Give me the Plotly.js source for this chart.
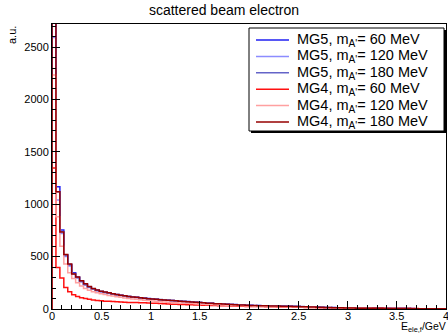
<!DOCTYPE html>
<html>
<head>
<meta charset="utf-8">
<script src="https://cdn.plot.ly/plotly-3.0.1.min.js"></script>
<style>html,body{margin:0;padding:0;background:#fff;}#chart{width:448px;height:334px;}</style>
</head>
<body>
<div id="chart"></div>
<script>
// Histogram: 100 bins of 0.04 GeV from 0 to 4 GeV
const binWidth = 0.04;

const seriesNames = [
  "MG5, m<sub>A'</sub>= 60 MeV",
  "MG5, m<sub>A'</sub>= 120 MeV",
  "MG5, m<sub>A'</sub>= 180 MeV",
  "MG4, m<sub>A'</sub>= 60 MeV",
  "MG4, m<sub>A'</sub>= 120 MeV",
  "MG4, m<sub>A'</sub>= 180 MeV"
];

const mg5_60 = [3400,1167,754,515,425,345,302,268,236,212,192,180,168,160,152,145,138,131,126,120,116,112,108,104,100,
  97,94,89,88,83,82,78,77,72,71,66,65,61,60,56,55,50,50,46,46,42,42,38,38,34,
  35,32,33,30,31,29,30,28,28,26,27,24,25,22,21,20,17,18,15,15,13,14,11,12,10,
  10,8,9,8,7,8,6,7,6,5,6,5,4,5,4,3,4,3,3,3,2,3,2,2,2];

const mg5_120 = [2590,1040,720,500,410,335,295,260,230,205,188,175,164,156,148,141,134,128,122,117,113,109,105,101,97,
  95,91,88,86,82,79,77,74,71,69,65,63,60,58,55,53,50,48,46,44,42,40,38,36,34,
  33,33,31,31,30,29,29,28,27,27,26,25,23,22,21,19,18,17,16,14,13,13,12,11,10,
  9,9,8,8,7,7,6,6,6,5,5,5,5,4,4,4,3,3,3,3,2,2,2,2,2];

const mg5_180 = [3300,1120,740,510,420,340,300,262,232,208,190,177,166,158,150,143,136,130,124,119,115,110,106,102,99,
  96,92,90,86,84,80,78,75,73,69,67,64,62,59,56,54,51,49,47,45,43,41,39,37,35,
  34,32,32,31,30,30,29,28,28,27,26,26,24,23,21,20,18,17,16,15,14,13,12,11,10,
  10,9,8,8,7,7,7,6,6,5,5,5,4,4,4,4,3,3,3,3,2,2,2,2,1];

const mg4_60 = [1345,395,296,205,165,135,120,108,100,92,86,80,78,75,73,71,69,67,65,63,62,61,60,59,58,
  56,54,52,50,48,46,45,44,42,41,40,39,38,36,35,34,33,32,31,30,29,28,27,26,25,
  25,24,23,23,22,21,21,20,19,19,18,17,17,16,15,15,14,13,13,12,11,11,10,10,9,
  9,8,8,8,7,7,7,6,6,6,5,5,5,5,4,4,4,4,3,3,3,3,3,2,2];

const mg4_120 = [2233,880,600,430,345,290,250,220,195,180,165,155,145,138,130,124,118,112,106,101,96,92,88,84,80,
  77,74,71,68,65,63,60,58,56,54,52,50,48,46,44,42,40,38,37,35,34,33,31,30,29,
  28,27,26,25,25,24,23,22,21,21,20,19,18,17,16,15,14,13,12,12,11,10,9,9,8,
  8,7,7,6,6,6,5,5,5,4,4,4,4,3,3,3,3,3,2,2,2,2,2,1,1];

const mg4_180 = [3100,1120,735,520,430,335,305,270,240,215,195,182,170,162,154,146,138,132,126,120,115,111,107,103,99,
  96,93,89,87,83,80,78,75,72,70,66,64,61,59,56,54,51,49,47,45,43,41,39,37,35,
  34,33,32,31,30,29,29,28,27,26,26,25,24,22,21,20,18,17,16,15,14,13,12,11,10,
  10,9,8,8,7,7,7,6,6,5,5,5,5,4,4,4,3,3,3,3,2,2,2,2,2];

const seriesValues = [mg5_60, mg5_120, mg5_180, mg4_60, mg4_120, mg4_180];
const seriesColors = ["#1f1ff2", "#8c8cff", "#6464c8", "#ff1010", "#ffa0a0", "#960000"];

const xTickVals = [0, 0.5, 1, 1.5, 2, 2.5, 3, 3.5, 4];
const xTickText = ["0", "0.5", "1", "1.5", "2", "2.5", "3", "3.5", "4"];
const yTickVals = [0, 500, 1000, 1500, 2000, 2500];
const yTickText = ["0", "500", "1000", "1500", "2000", "2500"];

function histTrace(vals, name, color) {
  const xs = [0];
  const ys = [0];
  for (let i = 0; i < vals.length; i++) {
    xs.push(+(i * binWidth).toFixed(4));
    ys.push(vals[i]);
  }
  xs.push(+(vals.length * binWidth).toFixed(4));
  ys.push(vals[vals.length - 1]);
  return {
    type: 'scatter', mode: 'lines', x: xs, y: ys, name: name,
    line: {shape: 'hv', color: color, width: 1.5},
    hoverinfo: 'skip', showlegend: false
  };
}

const traces = seriesValues.map((v, i) => histTrace(v, seriesNames[i], seriesColors[i]));

// Plot area in pixels (for converting the ROOT-style legend box into paper coordinates)
const W = 448, H = 334, mL = 52, mR = 2, mT = 24, mB = 25;
const pw = W - mL - mR, ph = H - mT - mB;
const px = v => (v - mL) / pw;
const py = v => (H - mB - v) / ph;

// ROOT-style legend box
const legBox = {x0: 249, x1: 444, y0: 28, y1: 131};
const legRowTop = 40, legRowStep = 16.4;
const legLine = {x0: 256, x1: 289}, legTextX = 295;

const shapes = [
  {type: 'rect', xref: 'paper', yref: 'paper', x0: px(legBox.x0 + 2), x1: px(legBox.x1 + 2),
   y0: py(legBox.y1 + 2), y1: py(legBox.y0 + 2), fillcolor: '#000', line: {width: 0}, layer: 'above'},
  {type: 'rect', xref: 'paper', yref: 'paper', x0: px(legBox.x0), x1: px(legBox.x1),
   y0: py(legBox.y1), y1: py(legBox.y0), fillcolor: '#fff', line: {color: '#000', width: 1}, layer: 'above'}
];
const font = "Liberation Sans, Arial, Helvetica, sans-serif";
const annotations = [];
seriesNames.forEach((n, i) => {
  const yy = legRowTop + i * legRowStep;
  shapes.push({type: 'line', xref: 'paper', yref: 'paper', x0: px(legLine.x0), x1: px(legLine.x1),
               y0: py(yy), y1: py(yy), line: {color: seriesColors[i], width: 1.5}, layer: 'above'});
  annotations.push({text: n, xref: 'paper', yref: 'paper', x: px(legTextX), y: py(yy),
                    xanchor: 'left', yanchor: 'middle', showarrow: false,
                    font: {family: font, size: 14.5, color: '#000'}});
});
// x tick labels placed through the x scale (ROOT-style, close to the axis)
xTickVals.forEach((v, i) => {
  annotations.push({text: xTickText[i], xref: 'x', yref: 'paper', x: v, y: py(315.5),
                    xanchor: 'center', yanchor: 'middle', showarrow: false, borderpad: 0,
                    font: {family: font, size: 11, color: '#000'}});
});
annotations.push({text: 'a.u.', xref: 'paper', yref: 'paper', x: px(12), y: py(24), xanchor: 'center', yanchor: 'top',
   textangle: -90, showarrow: false, font: {family: font, size: 11, color: '#000'}});
annotations.push({text: 'E<sub>ele,f</sub>/GeV', xref: 'paper', yref: 'paper', x: px(447), y: py(327),
   xanchor: 'right', yanchor: 'middle', showarrow: false, borderpad: 0,
   font: {family: font, size: 10.5, color: '#000'}});

const layout = {
  width: W, height: H,
  margin: {l: mL, r: mR, t: mT, b: mB},
  paper_bgcolor: '#fff', plot_bgcolor: '#fff',
  font: {family: font, size: 11, color: '#000'},
  title: {text: 'scattered beam electron', font: {family: font, size: 14, color: '#000'},
          x: 0.5, xanchor: 'center', y: 0.985, yanchor: 'top'},
  showlegend: false,
  xaxis: {
    range: [0, 4], tickvals: xTickVals, ticktext: xTickText, showticklabels: false,
    ticks: 'inside', ticklen: 8, tickwidth: 1, tickcolor: '#000',
    minor: {dtick: 0.1, ticks: 'inside', ticklen: 4, tickcolor: '#000', showgrid: false},
    showline: true, linecolor: '#000', linewidth: 1, mirror: true,
    showgrid: false, zeroline: false
  },
  yaxis: {
    range: [0, 2720], tickvals: yTickVals, ticktext: yTickText,
    ticks: 'inside', ticklen: 8, tickwidth: 1, tickcolor: '#000',
    minor: {dtick: 100, ticks: 'inside', ticklen: 4, tickcolor: '#000', showgrid: false},
    showline: true, linecolor: '#000', linewidth: 1, mirror: true,
    showgrid: false, zeroline: false,
    tickfont: {family: font, size: 11, color: '#000'}
  },
  shapes: shapes,
  annotations: annotations
};

Plotly.newPlot('chart', traces, layout, {displayModeBar: false, staticPlot: true});
</script>
</body>
</html>
